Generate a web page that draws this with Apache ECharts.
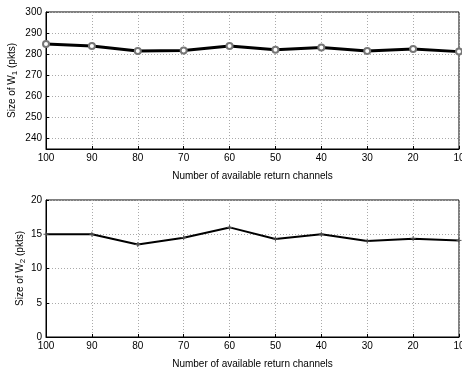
<!DOCTYPE html>
<html><head><meta charset="utf-8">
<script src="https://cdn.jsdelivr.net/npm/echarts@6/dist/echarts.min.js"></script>
<style>html,body{margin:0;padding:0;background:#fff}#c{width:462px;height:370px}</style>
</head><body><div id="c"></div>
<script>
const channels = [100, 90, 80, 70, 60, 50, 40, 30, 20, 10];
const w1Size = [284.8, 283.9, 281.5, 281.7, 283.9, 282.1, 283.1, 281.5, 282.4, 281.2];
const w2Size = [15.0, 15.0, 13.5, 14.5, 16.0, 14.3, 15.0, 14.0, 14.35, 14.1];
const xTicks = [100, 90, 80, 70, 60, 50, 40, 30, 20, 10];
const y1Ticks = [240, 250, 260, 270, 280, 290, 300];
const y2Ticks = [0, 5, 10, 15, 20];

const font = 'Liberation Sans, Arial, sans-serif';
const txt = {color: '#000', fontFamily: font, fontSize: 10};
const plus = 'path://M0,5L10,5M5,0L5,10';

function xAxis(gi) {
  return {
    type: 'value', gridIndex: gi, inverse: true, min: 10, max: 100, interval: 10,
    name: 'Number of available return channels', nameLocation: 'middle', nameGap: 22,
    nameMoveOverlap: false,
    nameTextStyle: Object.assign({}, txt),
    axisLine: {show: true, onZero: false, lineStyle: {color: '#000', width: 1}},
    axisTick: {show: true, inside: true, length: 3, customValues: xTicks, lineStyle: {color: '#000'}},
    axisLabel: Object.assign({margin: 4, customValues: xTicks}, txt),
    splitLine: {show: true, lineStyle: {color: '#aaa', type: [1, 2], width: 1}}
  };
}
function yAxis(gi, min, max, ticks, sub, gap) {
  return {
    type: 'value', gridIndex: gi, min: min, max: max,
    name: '{a|Size of W}{s|' + sub + '}{a| (pkts)}', nameLocation: 'middle', nameGap: gap,
    nameRotate: 90, nameMoveOverlap: false,
    nameTextStyle: {rich: {a: Object.assign({}, txt), s: Object.assign({}, txt, {fontSize: 8, padding: [6, 0, 0, 0]})}},
    axisLine: {show: true, lineStyle: {color: '#000', width: 1}},
    axisTick: {show: true, inside: true, length: 3, customValues: ticks, lineStyle: {color: '#000'}},
    axisLabel: Object.assign({margin: 4, customValues: ticks}, txt),
    splitLine: {show: true, lineStyle: {color: '#aaa', type: [1, 2], width: 1}}
  };
}

const chart = echarts.init(document.getElementById('c'), null, {renderer: 'canvas'});
chart.setOption({
  animation: false,
  backgroundColor: '#fff',
  grid: [
    {left: 46, right: 3, top: 12, height: 137, show: true, borderColor: '#000', borderWidth: 1, backgroundColor: 'transparent', outerBoundsMode: 'none', containLabel: false},
    {left: 46, right: 3, top: 200, height: 137, show: true, borderColor: '#000', borderWidth: 1, backgroundColor: 'transparent', outerBoundsMode: 'none', containLabel: false}
  ],
  xAxis: [xAxis(0), xAxis(1)],
  yAxis: [yAxis(0, 235, 300, y1Ticks, '1', 27), yAxis(1, 0, 20, y2Ticks, '2', 19)],
  series: [
    {type: 'line', xAxisIndex: 0, yAxisIndex: 0, data: channels.map((c, i) => [c, w1Size[i]]),
     symbol: 'emptyCircle', symbolSize: 6, lineStyle: {color: '#000', width: 3},
     itemStyle: {color: '#777', borderColor: '#777', borderWidth: 1}},
    {type: 'line', xAxisIndex: 1, yAxisIndex: 1, data: channels.map((c, i) => [c, w2Size[i]]),
     symbol: plus, symbolSize: 5, lineStyle: {color: '#000', width: 2},
     itemStyle: {color: '#555', borderColor: '#555', borderWidth: 1}}
  ]
});
</script></body></html>
